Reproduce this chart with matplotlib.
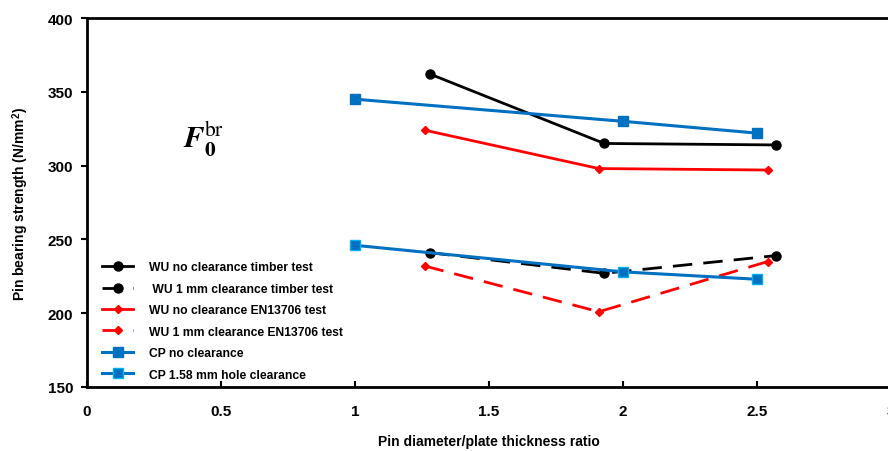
import numpy as np
import matplotlib.pyplot as plt

plt.rcParams['font.family'] = ['Liberation Sans', 'DejaVu Sans']
plt.rcParams['mathtext.fontset'] = 'stix'

# WU timber tests
wu_x = [1.28, 1.93, 2.57]
wu_noclr = [362, 315, 314]
wu_1mm = [241, 227, 239]
# WU EN13706 tests
en_x = [1.26, 1.91, 2.54]
en_noclr = [324, 298, 297]
en_1mm = [232, 201, 235]
# CP
cp_x = [1.0, 2.0, 2.5]
cp_noclr = [345, 330, 322]
cp_158 = [246, 228, 223]

fig = plt.figure(figsize=(8.88, 4.52), dpi=100)
ax = fig.add_axes([87 / 888, 64 / 452, 804 / 888, 369 / 452])

blue = '#0070C0'
ax.plot(wu_x, wu_noclr, color='black', lw=2, marker='o', ms=6.5, label='WU no clearance timber test')
ax.plot(wu_x, wu_1mm, color='black', lw=2, ls=(0, (7, 4)), marker='o', ms=6.5, label=' WU 1 mm clearance timber test')
ax.plot(en_x, en_noclr, color='#FF0000', lw=2, marker='D', ms=4.5, label='WU no clearance EN13706 test')
ax.plot(en_x, en_1mm, color='#FF0000', lw=2, ls=(0, (7, 4)), marker='D', ms=4.5, label='WU 1 mm clearance EN13706 test')
ax.plot(cp_x, cp_noclr, color=blue, lw=2.2, marker='s', ms=7, label='CP no clearance')
ax.plot(cp_x, cp_158, color=blue, lw=2.2, marker='s', ms=7, mec='#00B0F0', label='CP 1.58 mm hole clearance')

ax.set_xlim(0, 3)
ax.set_ylim(150, 400)
ax.set_xticks([0, 0.5, 1, 1.5, 2, 2.5, 3])
ax.set_xticklabels(['0', '0.5', '1', '1.5', '2', '2.5', '3'])
ax.set_yticks([150, 200, 250, 300, 350, 400])
ax.tick_params(axis='x', direction='in', length=4, width=1.5, labelsize=11, pad=12)
ax.tick_params(axis='y', direction='out', length=4, width=1.5, labelsize=11, pad=6)
for lab in ax.get_xticklabels() + ax.get_yticklabels():
    lab.set_fontweight('bold')
for s in ['left', 'bottom', 'top']:
    ax.spines[s].set_linewidth(2)
ax.spines['right'].set_visible(False)

ax.set_xlabel('Pin diameter/plate thickness ratio', fontsize=10, fontweight='bold', labelpad=12)
ax.set_ylabel('Pin bearing strength (N/mm$^\\mathregular{2}$)', fontsize=10, fontweight='bold', labelpad=12)

ax.text(0.36, 313, r'$\mathbfit{F}_{\mathbf{0}}^{\mathrm{br}}$', fontsize=22)

ax.legend(loc='lower left', bbox_to_anchor=(0.005, -0.012), frameon=False,
          prop={'weight': 'bold', 'size': 8.7}, handlelength=2.6, labelspacing=0.78,
          handletextpad=1.3)

fig.savefig('out.png', dpi=100)
